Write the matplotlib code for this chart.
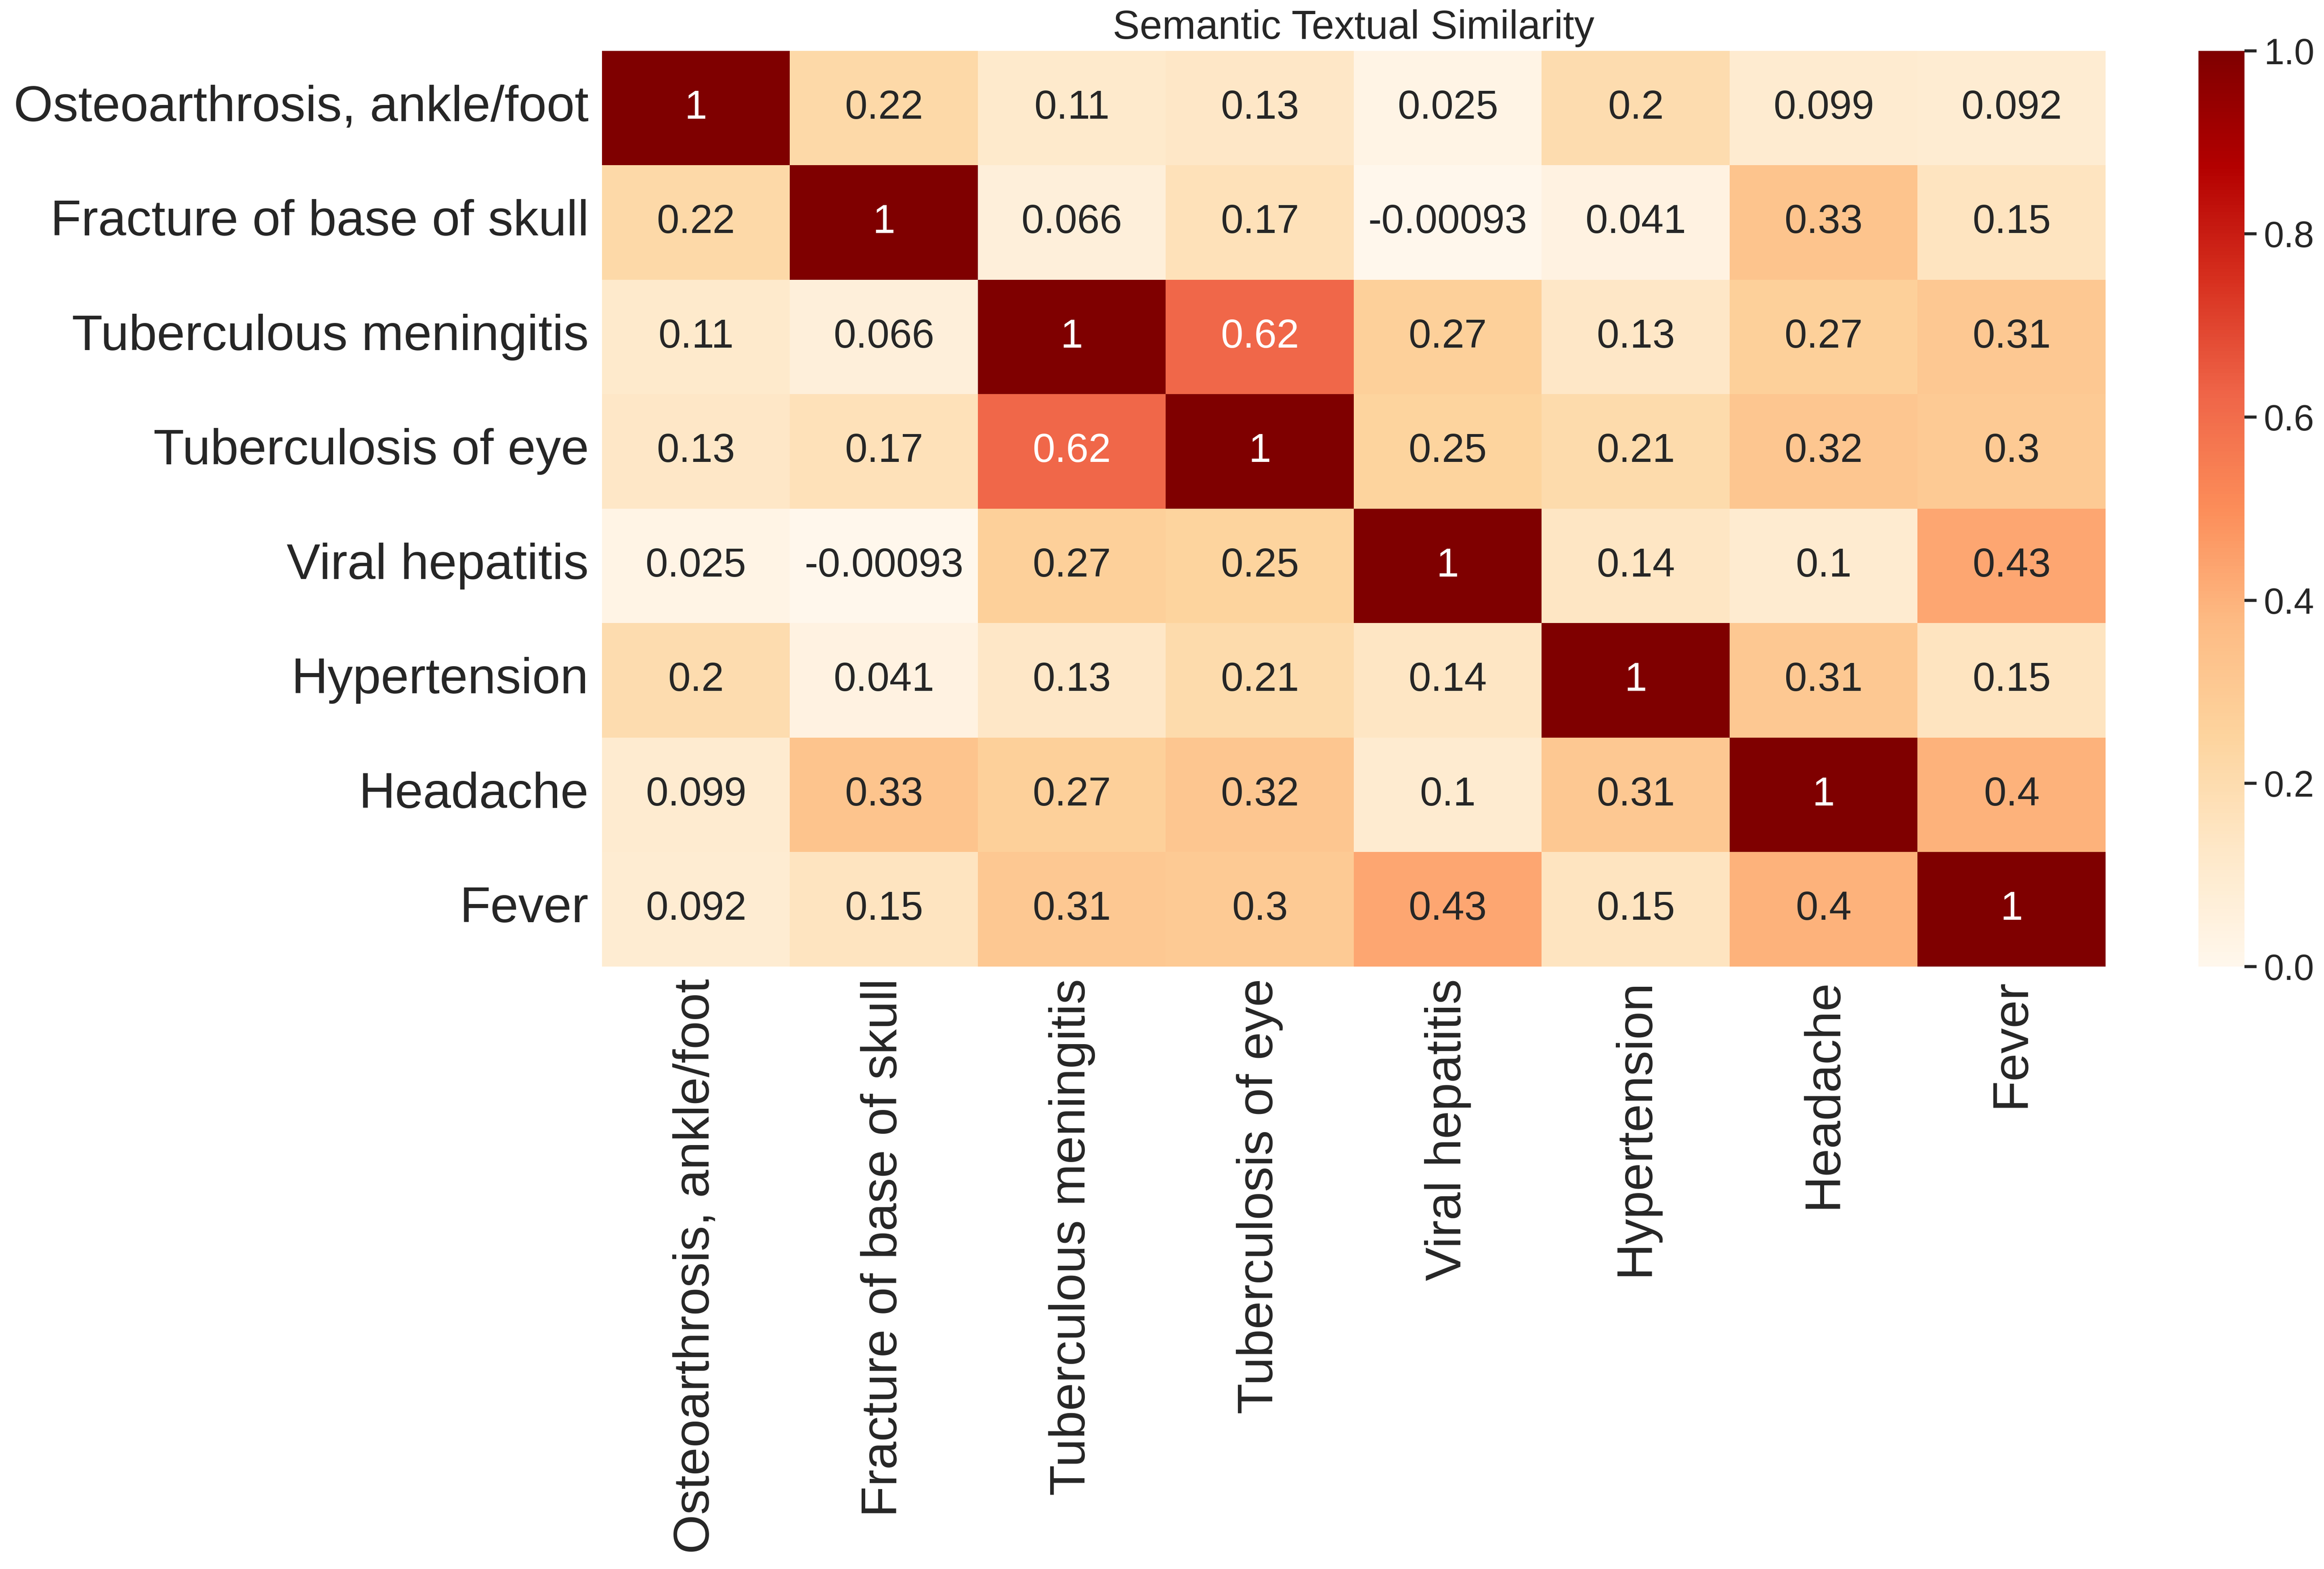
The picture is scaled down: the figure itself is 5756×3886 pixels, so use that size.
import matplotlib
matplotlib.use("Agg")
import matplotlib.pyplot as plt
import seaborn as sns
import numpy as np
import pandas as pd

labels = ["Osteoarthrosis, ankle/foot", "Fracture of base of skull",
          "Tuberculous meningitis", "Tuberculosis of eye", "Viral hepatitis",
          "Hypertension", "Headache", "Fever"]

row_osteo = [1, 0.22, 0.11, 0.13, 0.025, 0.2, 0.099, 0.092]
row_fracture = [0.22, 1, 0.066, 0.17, -0.00093, 0.041, 0.33, 0.15]
row_tbmen = [0.11, 0.066, 1, 0.62, 0.27, 0.13, 0.27, 0.31]
row_tbeye = [0.13, 0.17, 0.62, 1, 0.25, 0.21, 0.32, 0.3]
row_viral = [0.025, -0.00093, 0.27, 0.25, 1, 0.14, 0.1, 0.43]
row_hyper = [0.2, 0.041, 0.13, 0.21, 0.14, 1, 0.31, 0.15]
row_headache = [0.099, 0.33, 0.27, 0.32, 0.1, 0.31, 1, 0.4]
row_fever = [0.092, 0.15, 0.31, 0.3, 0.43, 0.15, 0.4, 1]

sim = pd.DataFrame([row_osteo, row_fracture, row_tbmen, row_tbeye,
                    row_viral, row_hyper, row_headache, row_fever],
                   index=labels, columns=labels)

sns.set_style("white")
plt.rcParams['font.family'] = ['Liberation Sans', 'DejaVu Sans']
plt.rcParams['text.color'] = '#262626'
plt.rcParams['xtick.color'] = '#262626'
plt.rcParams['ytick.color'] = '#262626'

fig = plt.figure(figsize=(5756/360, 3886/360), dpi=360)
ax = fig.add_axes([0.259, 0.384, 0.647, 0.5836])
cax = fig.add_axes([0.946, 0.384, 0.0198, 0.5836])

sns.heatmap(sim, ax=ax, cbar_ax=cax, cmap="OrRd", vmin=0, vmax=1,
            annot=True, annot_kws={"size": 20})

ax.set_title("Semantic Textual Similarity", fontsize=20)
ax.tick_params(axis='x', labelsize=25, rotation=90, length=0, pad=6)
ax.tick_params(axis='y', labelsize=25, rotation=0, length=0, pad=6.5)
cax.tick_params(labelsize=18, length=6, width=1.5)
cax.set_yticks([0, 0.2, 0.4, 0.6, 0.8, 1.0])

fig.savefig("out.png", dpi=360)
